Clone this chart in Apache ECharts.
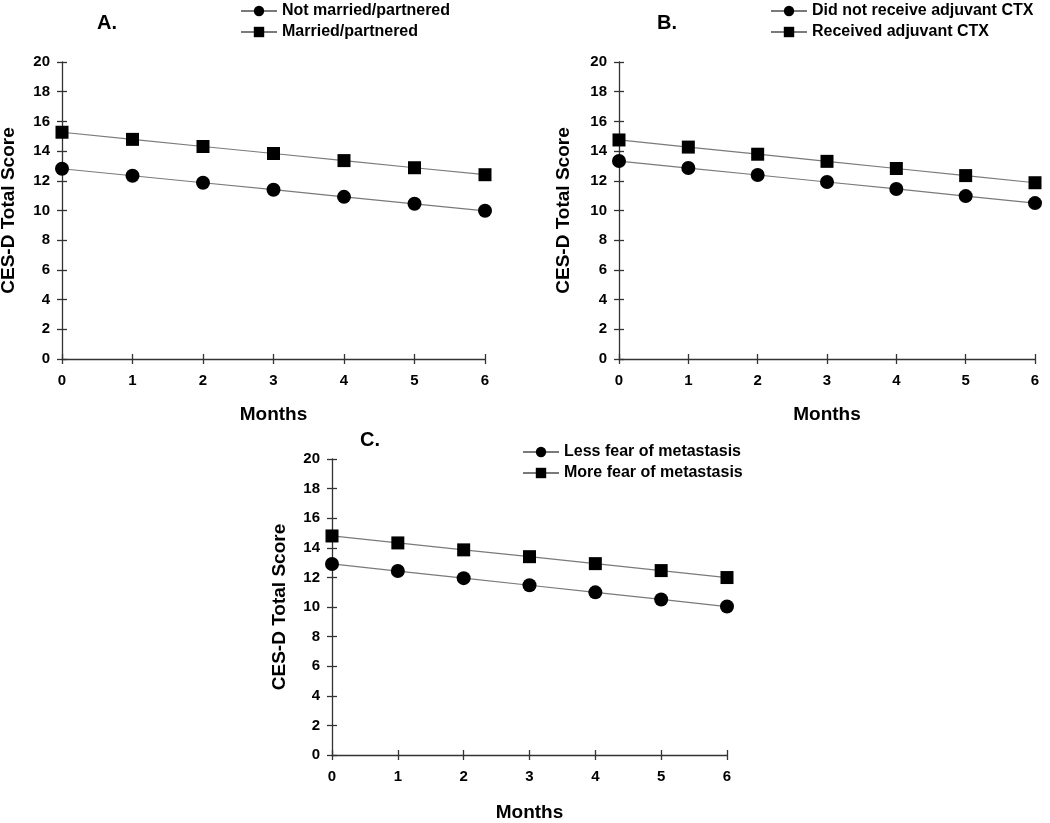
<!DOCTYPE html>
<html>
<head>
<meta charset="utf-8">
<script src="https://cdn.jsdelivr.net/npm/echarts@6/dist/echarts.min.js"></script>
<style>html,body{margin:0;padding:0;background:#fff}#c{width:1050px;height:823px}</style>
</head>
<body>
<div id="c"></div>
<script>
// ---- data ----
const months = [0, 1, 2, 3, 4, 5, 6];
const yTicks = [0, 2, 4, 6, 8, 10, 12, 14, 16, 18, 20];
const panelTitles = ['A.', 'B.', 'C.'];
const xTitle = 'Months';
const yTitle = 'CES-D Total Score';

const aNames = ['Not married/partnered', 'Married/partnered'];
const aCircle = [12.81, 12.34, 11.87, 11.40, 10.92, 10.45, 9.98];
const aSquare = [15.27, 14.79, 14.31, 13.84, 13.36, 12.88, 12.41];

const bNames = ['Did not receive adjuvant CTX', 'Received adjuvant CTX'];
const bCircle = [13.33, 12.86, 12.39, 11.92, 11.45, 10.97, 10.50];
const bSquare = [14.75, 14.27, 13.79, 13.31, 12.83, 12.35, 11.87];

const cNames = ['Less fear of metastasis', 'More fear of metastasis'];
const cCircle = [12.91, 12.43, 11.95, 11.47, 10.99, 10.51, 10.03];
const cSquare = [14.80, 14.33, 13.86, 13.40, 12.93, 12.46, 11.99];

// ---- layout/styling ----
const FONT = '"Liberation Sans", Arial, sans-serif';
const grids = [
  {left: 62, top: 62, width: 423, height: 297},
  {left: 619, top: 62, width: 416, height: 297},
  {left: 332, top: 459, width: 395, height: 296}
];
const panels = [
  {names: aNames, circle: aCircle, square: aSquare, titlePos: {left: 97, top: 13}, legendPos: {left: 240, top: 3}, yGap: 44, xGap: 46},
  {names: bNames, circle: bCircle, square: bSquare, titlePos: {left: 657, top: 13}, legendPos: {left: 770, top: 3}, yGap: 46, xGap: 46},
  {names: cNames, circle: cCircle, square: cSquare, titlePos: {left: 360, top: 430}, legendPos: {left: 522, top: 444}, yGap: 43, xGap: 48}
];

const axisColor = '#333';
const option = {
  animation: false,
  backgroundColor: '#fff',
  textStyle: {fontFamily: FONT},
  title: [], legend: [], grid: [], xAxis: [], yAxis: [], series: []
};

panels.forEach((p, i) => {
  option.grid.push(Object.assign({containLabel: false, outerBoundsMode: 'none'}, grids[i]));
  option.title.push(Object.assign({
    text: panelTitles[i], padding: 0,
    textStyle: {fontFamily: FONT, fontWeight: 'bold', fontSize: 20, color: '#000'}
  }, p.titlePos));
  option.legend.push(Object.assign({
    orient: 'vertical', padding: 0,
    data: p.names,
    itemWidth: 36, itemHeight: 13, itemGap: 5,
    textStyle: {fontFamily: FONT, fontWeight: 'bold', fontSize: 16, color: '#000'},
    selectedMode: false
  }, p.legendPos));
  // main axes (outside ticks with labels)
  option.xAxis.push({
    type: 'value', gridIndex: i, min: months[0], max: months[months.length - 1], interval: 1,
    name: xTitle, nameLocation: 'middle', nameGap: p.xGap,
    nameTextStyle: {fontFamily: FONT, fontWeight: 'bold', fontSize: 19, color: '#000'},
    axisLine: {show: true, lineStyle: {color: axisColor, width: 1.3}},
    axisTick: {show: true, inside: false, length: 5, lineStyle: {color: axisColor, width: 1.3}},
    axisLabel: {margin: 14, fontFamily: FONT, fontWeight: 'bold', fontSize: 15, color: '#000'},
    splitLine: {show: false}
  });
  option.yAxis.push({
    type: 'value', gridIndex: i, min: yTicks[0], max: yTicks[yTicks.length - 1], interval: 2,
    name: yTitle, nameLocation: 'middle', nameGap: p.yGap, nameRotate: 90,
    nameTextStyle: {fontFamily: FONT, fontWeight: 'bold', fontSize: 19, color: '#000'},
    axisLine: {show: true, lineStyle: {color: axisColor, width: 1.3}},
    axisTick: {show: true, inside: false, length: 5, lineStyle: {color: axisColor, width: 1.3}},
    axisLabel: {margin: 12, fontFamily: FONT, fontWeight: 'bold', fontSize: 15, color: '#000'},
    splitLine: {show: false}
  });
  const xi = option.xAxis.length - 1, yi = option.yAxis.length - 1;
  // overlay axes for inside half of crossing ticks
  option.xAxis.push({
    type: 'value', gridIndex: i, position: 'bottom', min: months[0], max: months[months.length - 1], interval: 1,
    axisLine: {show: false}, axisLabel: {show: false}, splitLine: {show: false},
    axisTick: {show: true, inside: true, length: 5, lineStyle: {color: axisColor, width: 1.3}}
  });
  option.yAxis.push({
    type: 'value', gridIndex: i, position: 'left', min: yTicks[0], max: yTicks[yTicks.length - 1], interval: 2,
    axisLine: {show: false}, axisLabel: {show: false}, splitLine: {show: false},
    axisTick: {show: true, inside: true, length: 5, lineStyle: {color: axisColor, width: 1.3}}
  });
  const mk = (name, vals, sym, size) => ({
    name: name, type: 'line', xAxisIndex: xi, yAxisIndex: yi,
    data: months.map((m, k) => [m, vals[k]]),
    symbol: sym, symbolSize: size,
    lineStyle: {color: '#7a7a7a', width: 1.2},
    itemStyle: {color: '#000', borderWidth: 0},
    emphasis: {disabled: true}, z: 3
  });
  option.series.push(mk(p.names[0], p.circle, 'circle', 14));
  option.series.push(mk(p.names[1], p.square, 'rect', 13));
});

const chart = echarts.init(document.getElementById('c'), null, {renderer: 'canvas'});
chart.setOption(option);
</script>
</body>
</html>
